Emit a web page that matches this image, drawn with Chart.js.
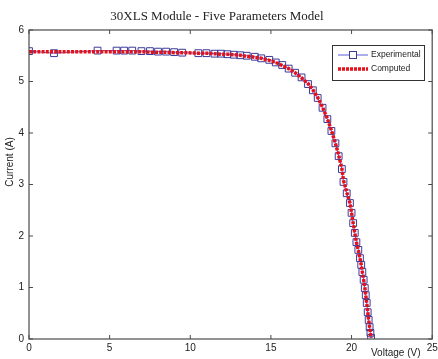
<!DOCTYPE html>
<html>
<head>
<meta charset="utf-8">
<script src="https://cdn.jsdelivr.net/npm/chart.js@4/dist/chart.umd.min.js"></script>
<style>
  html, body { margin: 0; padding: 0; background: #fff; }
  #wrap { width: 438px; height: 359px; position: relative; }
</style>
</head>
<body>
<div id="wrap"><canvas id="c" width="438" height="359"></canvas></div>
<script>
const titleText = '30XLS Module - Five Parameters Model';
const xTitle = 'Voltage (V)';
const yTitle = 'Current (A)';
const seriesNames = ['Experimental', 'Computed'];

const voltage = [0, 1.55, 4.25, 5.43, 5.9, 6.4, 6.97, 7.5, 8.0, 8.5,
  9.0, 9.5, 10.5, 11.0, 11.5, 11.9, 12.3, 12.7, 13.1, 13.5,
  14.0, 14.4, 14.9, 15.3, 15.7, 16.1, 16.5, 16.9,
  17.3, 17.6, 17.9, 18.2, 18.5, 18.75, 19.0, 19.2, 19.4, 19.5,
  19.7, 19.9, 20.0, 20.1, 20.2, 20.3, 20.42, 20.52, 20.6, 20.67,
  20.75, 20.82, 20.88, 20.94, 21.0, 21.06, 21.12, 21.17, 21.21];

const experimental = [5.59, 5.55, 5.60, 5.60, 5.60, 5.60, 5.59, 5.59, 5.58, 5.58,
  5.57, 5.56, 5.55, 5.55, 5.54, 5.54, 5.53, 5.52, 5.51, 5.50,
  5.48, 5.45, 5.42, 5.37, 5.32, 5.25, 5.17, 5.08,
  4.95, 4.83, 4.68, 4.49, 4.27, 4.04, 3.80, 3.55, 3.30, 3.05,
  2.83, 2.64, 2.45, 2.25, 2.06, 1.88, 1.73, 1.57, 1.44, 1.30,
  1.15, 0.99, 0.85, 0.70, 0.52, 0.37, 0.23, 0.12, 0.02];

const computed = [5.58, 5.58, 5.58, 5.58, 5.58, 5.58, 5.58, 5.57, 5.57, 5.57,
  5.56, 5.56, 5.55, 5.55, 5.54, 5.53, 5.53, 5.52, 5.51, 5.49,
  5.47, 5.45, 5.41, 5.37, 5.31, 5.25, 5.17, 5.07,
  4.96, 4.84, 4.69, 4.50, 4.28, 4.05, 3.80, 3.57, 3.31, 3.08,
  2.85, 2.64, 2.45, 2.25, 2.06, 1.88, 1.72, 1.57, 1.44, 1.30,
  1.15, 1.00, 0.85, 0.70, 0.53, 0.37, 0.23, 0.12, 0.02];

const xTicks = [0, 5, 10, 15, 20, 25];
const yTicks = [0, 1, 2, 3, 4, 5, 6];

const expPoints = voltage.map((v, i) => ({ x: v, y: experimental[i] }));
const compPoints = voltage.map((v, i) => ({ x: v, y: computed[i] }));

const FRAME = '#4a4a4a';
const EXP_LINE = '#5a5ad0';
const EXP_MARK = '#3b3b99';
const COMP = '#e5121c';

const framePlugin = {
  id: 'frame',
  afterDatasetsDraw(chart) {
    const { ctx, chartArea: a, scales } = chart;
    ctx.save();
    ctx.strokeStyle = FRAME;
    ctx.lineWidth = 1.2;
    ctx.strokeRect(a.left, a.top, a.right - a.left, a.bottom - a.top);
    const t = 4;
    ctx.lineWidth = 1;
    xTicks.forEach(v => {
      const x = scales.x.getPixelForValue(v);
      ctx.beginPath();
      ctx.moveTo(x, a.bottom); ctx.lineTo(x, a.bottom - t);
      ctx.moveTo(x, a.top); ctx.lineTo(x, a.top + t);
      ctx.stroke();
    });
    yTicks.forEach(v => {
      const y = scales.y.getPixelForValue(v);
      ctx.beginPath();
      ctx.moveTo(a.left, y); ctx.lineTo(a.left + t, y);
      ctx.moveTo(a.right, y); ctx.lineTo(a.right - t, y);
      ctx.stroke();
    });
    // axis titles
    ctx.fillStyle = '#222';
    ctx.font = '10px "Liberation Sans", Arial, sans-serif';
    ctx.textBaseline = 'middle';
    ctx.textAlign = 'left';
    ctx.fillText(xTitle, 371, 353);
    ctx.save();
    ctx.translate(10, 162);
    ctx.rotate(-Math.PI / 2);
    ctx.textAlign = 'center';
    ctx.fillText(yTitle, 0, 0);
    ctx.restore();

    // legend box
    const lx = 332, ly = 45, lw = 92, lh = 35;
    ctx.fillStyle = '#fff';
    ctx.fillRect(lx, ly, lw, lh);
    ctx.strokeStyle = '#333';
    ctx.lineWidth = 1;
    ctx.strokeRect(lx + 0.5, ly + 0.5, lw, lh);
    const ds = chart.data.datasets;
    const rows = [ly + 10, ly + 24];
    // experimental
    ctx.strokeStyle = EXP_LINE;
    ctx.lineWidth = 1;
    ctx.beginPath();
    ctx.moveTo(338, rows[0]); ctx.lineTo(368, rows[0]);
    ctx.stroke();
    ctx.strokeStyle = EXP_MARK;
    ctx.fillStyle = '#fff';
    ctx.fillRect(349.5, rows[0] - 3.5, 7, 7);
    ctx.strokeRect(349.5, rows[0] - 3.5, 7, 7);
    // computed
    ctx.strokeStyle = COMP;
    ctx.lineWidth = 3.5;
    ctx.setLineDash([3, 1]);
    ctx.beginPath();
    ctx.moveTo(338, rows[1]); ctx.lineTo(368, rows[1]);
    ctx.stroke();
    ctx.setLineDash([]);
    ctx.fillStyle = '#222';
    ctx.font = '8.5px "Liberation Sans", Arial, sans-serif';
    ctx.textAlign = 'left';
    ctx.fillText(ds[0].label, 371, rows[0]);
    ctx.fillText(ds[1].label, 371, rows[1]);
    ctx.restore();
  }
};

new Chart(document.getElementById('c'), {
  type: 'scatter',
  data: {
    datasets: [
      {
        label: seriesNames[0],
        data: expPoints,
        showLine: true,
        borderColor: EXP_LINE,
        borderWidth: 1,
        pointStyle: 'rect',
        pointRadius: 4.8,
        pointBorderColor: EXP_MARK,
        pointBackgroundColor: 'rgba(0,0,0,0)',
        pointBorderWidth: 1,
        order: 1
      },
      {
        label: seriesNames[1],
        data: compPoints,
        showLine: true,
        borderColor: COMP,
        borderWidth: 3.5,
        borderDash: [3, 1.2],
        pointRadius: 0,
        order: 0
      }
    ]
  },
  options: {
    responsive: false,
    animation: false,
    layout: { padding: { left: 0, right: 4, top: 0, bottom: 0 } },
    plugins: {
      legend: { display: false },
      tooltip: { enabled: false },
      title: {
        display: true,
        text: titleText,
        color: '#222',
        font: { family: '"Liberation Serif", "Times New Roman", serif', size: 13, weight: 'normal', lineHeight: 1.2 },
        padding: { top: 9, bottom: 5.4 }
      }
    },
    scales: {
      x: {
        type: 'linear',
        min: 0, max: 25,
        afterBuildTicks: s => { s.ticks = xTicks.map(v => ({ value: v })); },
        afterFit: s => { s.height = 20; s.paddingLeft = 0; s.paddingRight = 0; },
        grid: { display: false, drawTicks: false },
        border: { display: false },
        ticks: {
          color: '#222',
          padding: 3,
          maxRotation: 0,
          autoSkip: false,
          font: { family: '"Liberation Sans", Arial, sans-serif', size: 10 }
        }
      },
      y: {
        type: 'linear',
        min: 0, max: 6,
        afterBuildTicks: s => { s.ticks = yTicks.map(v => ({ value: v })); },
        afterFit: s => { s.width = 29; s.paddingTop = 0; s.paddingBottom = 0; },
        grid: { display: false, drawTicks: false },
        border: { display: false },
        ticks: {
          color: '#222',
          padding: 5,
          autoSkip: false,
          font: { family: '"Liberation Sans", Arial, sans-serif', size: 10 }
        }
      }
    }
  },
  plugins: [framePlugin]
});
</script>
</body>
</html>
